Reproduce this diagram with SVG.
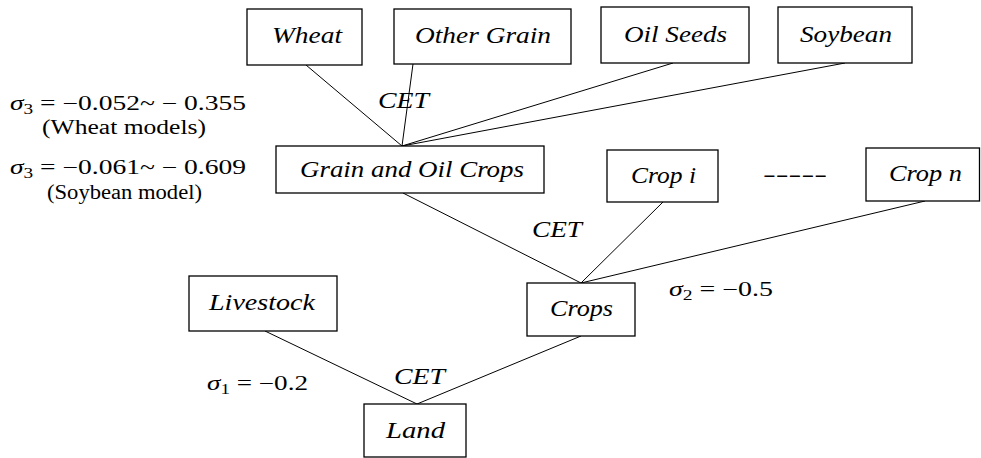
<svg xmlns="http://www.w3.org/2000/svg" width="981" height="458" viewBox="0 0 981 458">
<style>
.box{fill:#fff;stroke:#000;stroke-width:1.3}
.lbl{font-style:italic;font-size:23px;fill:#000}
.math{font-size:20px;fill:#000}
.sub{font-size:14px}
.conn line{stroke:#000;stroke-width:1}
</style>
<rect width="981" height="458" fill="#fff"/>
<g class="conn" id="connectors">
<line x1="306" y1="65" x2="402" y2="146"/>
<line x1="413" y1="64" x2="402" y2="146"/>
<line x1="673" y1="63" x2="402" y2="146"/>
<line x1="845" y1="63" x2="402" y2="146"/>
<line x1="403" y1="193" x2="581" y2="283"/>
<line x1="663" y1="202" x2="581" y2="283"/>
<line x1="925" y1="201" x2="581" y2="283"/>
<line x1="265" y1="331" x2="417" y2="404"/>
<line x1="581" y1="336" x2="417" y2="404"/>
</g>
<g font-family="Liberation Serif, Times New Roman, serif">
<g id="wheat"><rect class="box" x="247" y="9" width="115" height="56"/><text class="lbl" x="272" y="43" textLength="70" lengthAdjust="spacingAndGlyphs">Wheat</text></g>
<g id="other-grain"><rect class="box" x="394" y="9" width="177" height="55"/><text class="lbl" x="415" y="43" textLength="136" lengthAdjust="spacingAndGlyphs">Other Grain</text></g>
<g id="oil-seeds"><rect class="box" x="601" y="7" width="148" height="56"/><text class="lbl" x="624" y="42" textLength="103" lengthAdjust="spacingAndGlyphs">Oil Seeds</text></g>
<g id="soybean"><rect class="box" x="778" y="7" width="134" height="56"/><text class="lbl" x="800" y="42" textLength="92" lengthAdjust="spacingAndGlyphs">Soybean</text></g>
<g id="grain-oil-crops"><rect class="box" x="276" y="146" width="268" height="47"/><text class="lbl" x="300" y="177" textLength="224" lengthAdjust="spacingAndGlyphs">Grain and Oil Crops</text></g>
<g id="crop-i"><rect class="box" x="607" y="150" width="111" height="52"/><text class="lbl" x="631" y="183" textLength="65" lengthAdjust="spacingAndGlyphs">Crop i</text></g>
<g id="crop-n"><rect class="box" x="866" y="148" width="113.5" height="53"/><text class="lbl" x="889" y="181" textLength="73" lengthAdjust="spacingAndGlyphs">Crop n</text></g>
<g id="crops"><rect class="box" x="527" y="283" width="108" height="53"/><text class="lbl" x="550" y="316" textLength="63" lengthAdjust="spacingAndGlyphs">Crops</text></g>
<g id="livestock"><rect class="box" x="189" y="276" width="148" height="55"/><text class="lbl" x="209" y="310" textLength="106" lengthAdjust="spacingAndGlyphs">Livestock</text></g>
<g id="land"><rect class="box" x="364" y="404" width="102" height="53"/><text class="lbl" x="386" y="438" textLength="59" lengthAdjust="spacingAndGlyphs">Land</text></g>
<g id="labels">
<text class="lbl" x="378" y="108" textLength="51" lengthAdjust="spacingAndGlyphs">CET</text>
<text class="lbl" x="532" y="237" textLength="50" lengthAdjust="spacingAndGlyphs">CET</text>
<text class="lbl" x="394" y="384" textLength="51" lengthAdjust="spacingAndGlyphs">CET</text>
<text class="math" x="763" y="181" textLength="64" lengthAdjust="spacingAndGlyphs">-----</text>
<text class="math" x="10" y="110" textLength="236" lengthAdjust="spacingAndGlyphs"><tspan font-style="italic">σ</tspan><tspan class="sub" dy="4">3</tspan><tspan dy="-4"> = −0.052~ − 0.355</tspan></text>
<text class="math" x="42" y="134" textLength="164" lengthAdjust="spacingAndGlyphs">(Wheat models)</text>
<text class="math" x="10" y="174" textLength="236" lengthAdjust="spacingAndGlyphs"><tspan font-style="italic">σ</tspan><tspan class="sub" dy="4">3</tspan><tspan dy="-4"> = −0.061~ − 0.609</tspan></text>
<text class="math" x="47" y="199" textLength="155" lengthAdjust="spacingAndGlyphs">(Soybean model)</text>
<text class="math" x="669" y="296" textLength="104" lengthAdjust="spacingAndGlyphs"><tspan font-style="italic">σ</tspan><tspan class="sub" dy="4">2</tspan><tspan dy="-4"> = −0.5</tspan></text>
<text class="math" x="207" y="390" textLength="101" lengthAdjust="spacingAndGlyphs"><tspan font-style="italic">σ</tspan><tspan class="sub" dy="4">1</tspan><tspan dy="-4"> = −0.2</tspan></text>
</g>
</g>
</svg>
